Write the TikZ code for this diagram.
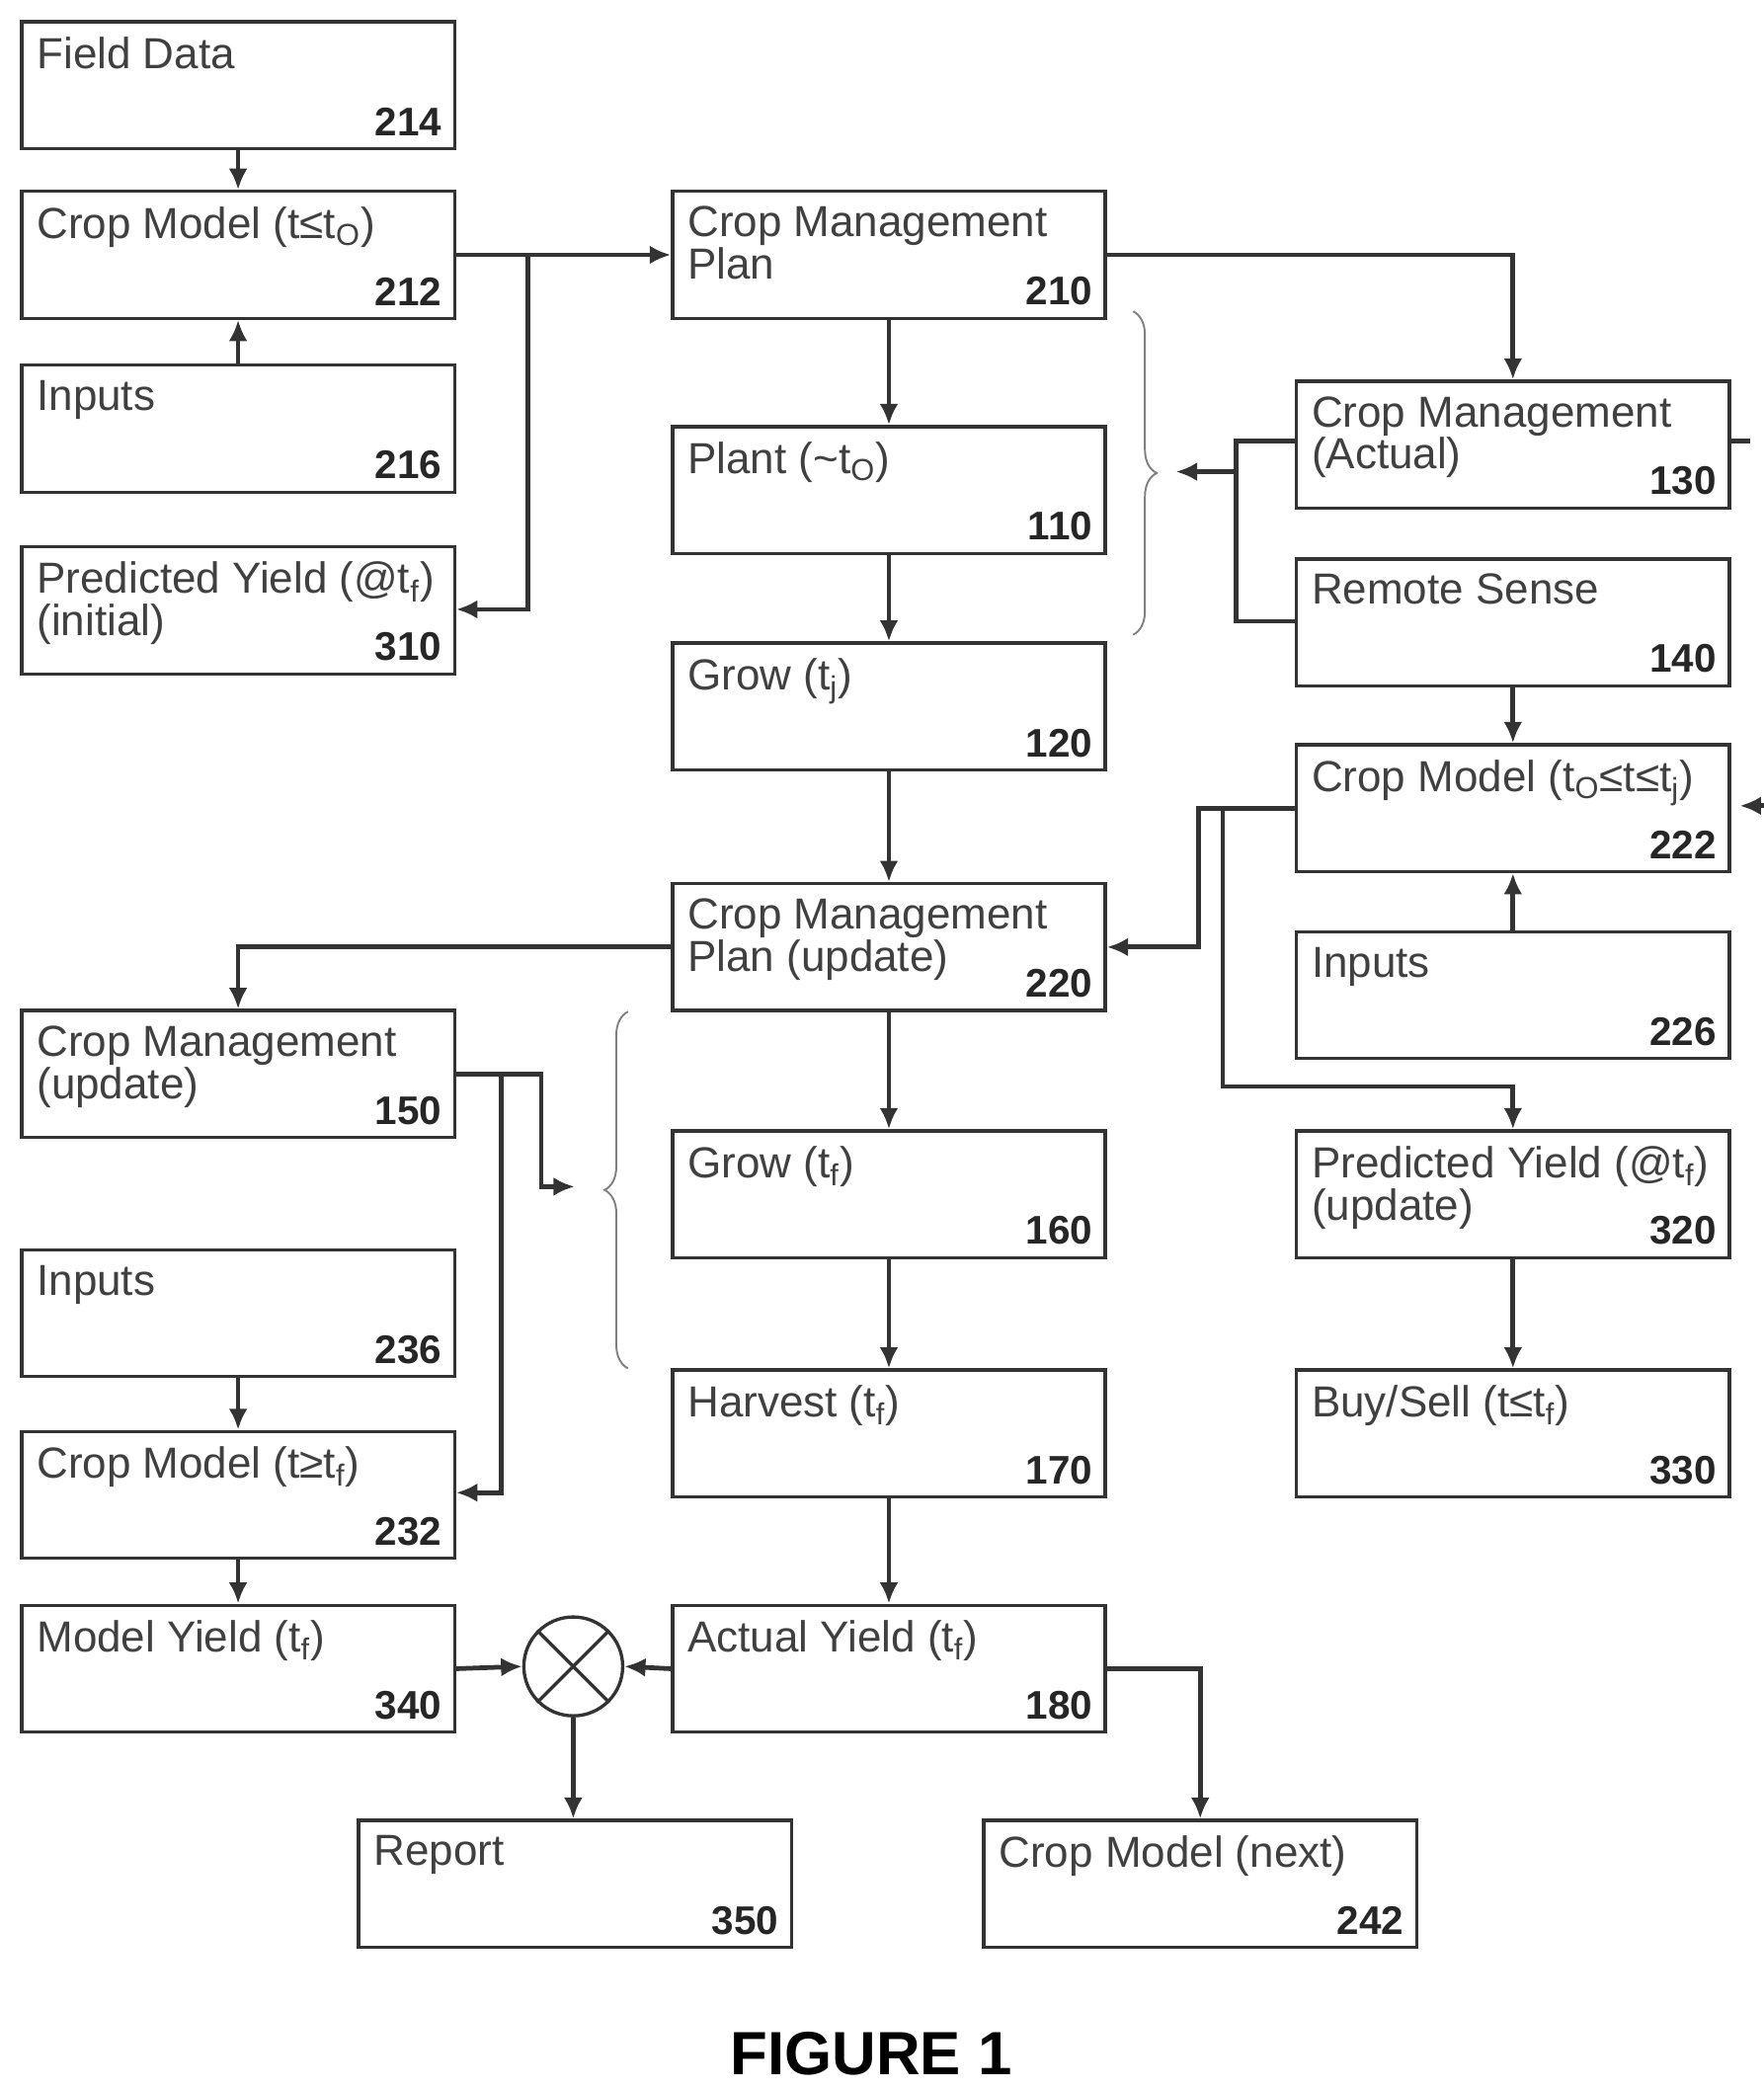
\documentclass[tikz,border=0pt]{standalone}
\usepackage{fontspec}
\setmainfont{Liberation Sans}
\usetikzlibrary{arrows.meta,decorations.pathreplacing}
\tikzset{
  blk/.style={draw=black!80,line width=1.4pt,anchor=north west,minimum width=6.48cm,minimum height=1.9cm,inner sep=0pt},
  ttl/.style={anchor=north west,align=left,text=black!75,inner sep=7pt,font=\fontsize{18.5}{18}\selectfont},
  num/.style={anchor=south east,inner sep=6pt,font=\fontsize{17}{18}\selectfont\bfseries,text=black!85},
  con/.style={draw=black!80,line width=2pt},
  arr/.style={con,-{Latex[length=9pt,width=8pt]}},
}
\newcommand{\blkbox}[5]{%
  \node[blk,label={[ttl]north west:#4},label={[num]south east:#5}] (#1) at (#2,#3) {};}
\begin{document}
\begin{tikzpicture}[x=0.02cm,y=-0.02cm]
  \useasboundingbox (0,0) rectangle (1320,1564);
  % left column
  \blkbox{b214}{15}{15}{Field Data}{214}
  \blkbox{b212}{15}{142}{Crop Model (t≤t\textsubscript{O})}{212}
  \blkbox{b216}{15}{272}{Inputs}{216}
  \blkbox{b310}{15}{408}{Predicted Yield (@t\textsubscript{f})\\(initial)}{310}
  \blkbox{b150}{15}{755}{Crop Management\\(update)}{150}
  \blkbox{b236}{15}{934}{Inputs}{236}
  \blkbox{b232}{15}{1070}{Crop Model (t≥t\textsubscript{f})}{232}
  \blkbox{b340}{15}{1200}{Model Yield (t\textsubscript{f})}{340}
  % middle column
  \blkbox{b210}{502}{142}{Crop Management\\Plan}{210}
  \blkbox{b110}{502}{318}{Plant (\textasciitilde t\textsubscript{O})}{110}
  \blkbox{b120}{502}{480}{Grow (t\textsubscript{j})}{120}
  \blkbox{b220}{502}{660}{Crop Management\\Plan (update)}{220}
  \blkbox{b160}{502}{845}{Grow (t\textsubscript{f})}{160}
  \blkbox{b170}{502}{1024}{Harvest (t\textsubscript{f})}{170}
  \blkbox{b180}{502}{1200}{Actual Yield (t\textsubscript{f})}{180}
  % right column
  \blkbox{b130}{969}{284}{Crop Management\\(Actual)}{130}
  \blkbox{b140}{969}{417}{Remote Sense}{140}
  \blkbox{b222}{969}{556}{Crop Model (t\textsubscript{O}≤t≤t\textsubscript{j})}{222}
  \blkbox{b226}{969}{696}{Inputs}{226}
  \blkbox{b320}{969}{845}{Predicted Yield (@t\textsubscript{f})\\(update)}{320}
  \blkbox{b330}{969}{1024}{Buy/Sell (t≤t\textsubscript{f})}{330}
  % bottom
  \blkbox{b350}{267}{1361}{Report}{350}
  \blkbox{b242}{735}{1361}{Crop Model (next)}{242}
  \node[draw=black!80,line width=1.4pt,circle,minimum size=1.48cm,inner sep=0pt] (cmp) at (429,1247) {};
  \draw[black!80,line width=1.4pt] (cmp.north west) -- (cmp.south east) (cmp.north east) -- (cmp.south west);
  \node[font=\fontsize{26}{28}\selectfont\bfseries] (fig) at (652,1537) {FIGURE 1};

  % connectors
  \draw[arr] (b214.south) -- (b212.north);
  \draw[arr] (b216.north) -- (b212.south);
  \draw[arr] (b212.east) -- (b210.west);
  \draw[arr] (395,0 |- b212.east) |- (b310.east |- 0,456);
  \draw[arr] (b210.east) -| (b130.north);
  \draw[arr] (b210.south) -- (b110.north);
  \draw[arr] (b110.south) -- (b120.north);
  \draw[arr] (b120.south) -- (b220.north);
  \draw[decorate,decoration={brace,amplitude=10pt},black!50,line width=0.8pt] (848,233) -- (848,475);
  \draw[con] (b130.west |- 0,330) -| (925,465) -- (b140.west |- 0,465);
  \coordinate (bt1) at (880,353);
  \draw[arr] (925,353) -- (bt1);
  \draw[con] (b130.east |- 0,330) -- (1310,330);
  \draw[arr] (1320,603) -- (1302,603);
  \draw[arr] (b140.south) -- (b222.north);
  \draw[arr] (b226.north) -- (b222.south);
  \draw[arr] (b222.west) -| (897,0 |- b220.east) -- (b220.east);
  \draw[arr] (915,0 |- b222.west) |- (b320.north |- 0,813) -- (b320.north);
  \draw[arr] (b320.south) -- (b330.north);
  \draw[arr] (b220.west) -| (b150.north);
  \draw[arr] (b220.south) -- (b160.north);
  \draw[arr] (b160.south) -- (b170.north);
  \draw[arr] (b170.south) -- (b180.north);
  \draw[decorate,decoration={brace,amplitude=10pt,mirror},black!50,line width=0.8pt] (470,757) -- (470,1024);
  \coordinate (bt2) at (430,888);
  \draw[arr] (b150.east) -| (405,888) -- (bt2);
  \draw[arr] (375,0 |- b150.east) |- (b232.east |- 0,1117);
  \draw[arr] (b236.south) -- (b232.north);
  \draw[arr] (b232.south) -- (b340.north);
  \draw[arr] (b340.east) -- (cmp.west);
  \draw[arr] (b180.west) -- (cmp.east);
  \draw[arr] (cmp.south) -- (cmp.south |- b350.north);
  \draw[arr] (b180.east) -| (b242.north);
\end{tikzpicture}
\end{document}
